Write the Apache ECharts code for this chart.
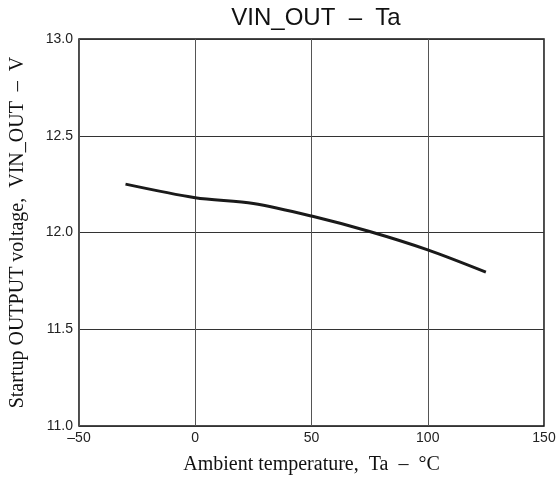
<!DOCTYPE html>
<html>
<head>
<meta charset="utf-8">
<script src="https://cdn.jsdelivr.net/npm/echarts@6/dist/echarts.min.js"></script>
<style>
  html, body { margin: 0; padding: 0; background: #fff; }
  #chart { width: 560px; height: 479px; }
</style>
</head>
<body>
<div id="chart"></div>
<script>
// Ta (°C) vs VIN_OUT (V)
const temps = [-30, 0, 25, 50, 75, 100, 125];
const voltages = [12.25, 12.18, 12.15, 12.085, 12.005, 11.91, 11.795];
const xTicks = { min: -50, max: 150, step: 50 };
const yTicks = { min: 11.0, max: 13.0, step: 0.5 };

const chart = echarts.init(document.getElementById('chart'));

const sans = 'Liberation Sans, Arial, sans-serif';
const serif = 'Liberation Serif, Times New Roman, serif';

chart.setOption({
  animation: false,
  title: {
    text: 'VIN_OUT  \u2013  Ta',
    left: 311,
    top: 1,
    textAlign: 'center',
    textStyle: { fontFamily: sans, fontSize: 24, fontWeight: 'normal', color: '#111' },
  },
  grid: {
    left: 79,
    right: 16,
    top: 39,
    bottom: 53,
    outerBoundsMode: 'none',
    containLabel: false,
    show: true,
    borderColor: '#111',
    borderWidth: 1.5,
  },
  xAxis: {
    type: 'value',
    min: xTicks.min,
    max: xTicks.max,
    interval: xTicks.step,
    name: 'Ambient temperature,  Ta  \u2013  \u00B0C',
    nameLocation: 'middle',
    nameGap: 29,
    nameTextStyle: { fontFamily: serif, fontSize: 20, color: '#111' },
    axisLine: { show: false },
    axisTick: { show: false },
    axisLabel: {
      fontFamily: sans,
      fontSize: 14,
      color: '#222',
      margin: 5,
      formatter: (v) => (v < 0 ? '\u2013' + Math.abs(v) : String(v)),
    },
    splitLine: { show: true, lineStyle: { color: '#555', width: 1 } },
  },
  yAxis: {
    type: 'value',
    min: yTicks.min,
    max: yTicks.max,
    interval: yTicks.step,
    name: 'Startup OUTPUT voltage,  VIN_OUT  \u2013  V',
    nameLocation: 'middle',
    nameGap: 51,
    nameTextStyle: { fontFamily: serif, fontSize: 20, color: '#111' },
    axisLine: { show: false },
    axisTick: { show: false },
    axisLabel: {
      fontFamily: sans,
      fontSize: 14,
      color: '#222',
      margin: 6,
      formatter: (v) => v.toFixed(1),
    },
    splitLine: { show: true, lineStyle: { color: '#333', width: 1 } },
  },
  series: [
    {
      type: 'line',
      data: temps.map((t, i) => [t, voltages[i]]),
      smooth: 0.3,
      showSymbol: false,
      lineStyle: { color: '#1a1a1a', width: 3 },
    },
  ],
});
</script>
</body>
</html>
